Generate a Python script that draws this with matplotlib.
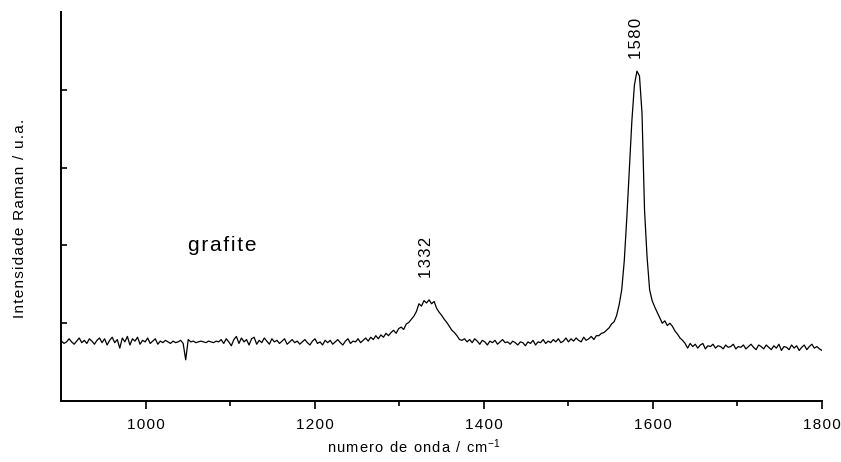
"""Raman spectrum of graphite (grafite), recreated from a scanned figure."""

import matplotlib
matplotlib.use('Agg')
import matplotlib.pyplot as plt
import numpy as np
from matplotlib.ticker import FixedLocator, FuncFormatter

plt.rcParams.update({
    'font.family': ['Liberation Sans', 'DejaVu Sans'],
    'mathtext.default': 'regular',
})

HAIR = '\u200a'

# sampling grid of the spectrum (cm^-1), 3 cm^-1 steps
WN_START, WN_STOP, WN_STEP = 900, 1800, 3

# intensity, one value per grid point (a.u.)
INTENSITY = [
    0.77, 0.74, 0.76, 0.80, 0.76, 0.73, 0.77, 0.81, 0.75, 0.78,   # 900
    0.74, 0.80, 0.77, 0.73, 0.78, 0.81, 0.75, 0.80, 0.72, 0.78,   # 930
    0.82, 0.75, 0.79, 0.68, 0.81, 0.76, 0.83, 0.72, 0.80, 0.77,   # 960
    0.82, 0.73, 0.78, 0.76, 0.81, 0.74, 0.77, 0.80, 0.73, 0.77,   # 990
    0.75, 0.78, 0.76, 0.74, 0.77, 0.75, 0.76, 0.78, 0.74, 0.53,   # 1020
    0.79, 0.76, 0.77, 0.75, 0.76, 0.77, 0.76, 0.75, 0.77, 0.76,   # 1050
    0.75, 0.77, 0.76, 0.79, 0.74, 0.80, 0.76, 0.71, 0.79, 0.83,   # 1080
    0.74, 0.81, 0.76, 0.79, 0.72, 0.80, 0.82, 0.73, 0.78, 0.75,   # 1110
    0.81, 0.77, 0.73, 0.80, 0.76, 0.78, 0.74, 0.77, 0.80, 0.73,   # 1140
    0.76, 0.79, 0.75, 0.77, 0.73, 0.76, 0.79, 0.75, 0.72, 0.77,   # 1170
    0.80, 0.74, 0.76, 0.72, 0.78, 0.75, 0.78, 0.73, 0.76, 0.79,   # 1200
    0.75, 0.72, 0.77, 0.80, 0.74, 0.77, 0.76, 0.80, 0.75, 0.78,   # 1230
    0.81, 0.77, 0.82, 0.79, 0.84, 0.80, 0.85, 0.82, 0.87, 0.84,   # 1260
    0.88, 0.91, 0.87, 0.93, 0.95, 0.92, 0.99, 1.01, 1.05, 1.09,   # 1290
    1.15, 1.25, 1.22, 1.29, 1.26, 1.30, 1.25, 1.28, 1.19, 1.14,   # 1320
    1.10, 1.05, 1.01, 0.96, 0.91, 0.88, 0.84, 0.79, 0.78, 0.80,   # 1350
    0.76, 0.79, 0.75, 0.80, 0.77, 0.73, 0.78, 0.76, 0.72, 0.77,   # 1380
    0.75, 0.78, 0.73, 0.76, 0.79, 0.75, 0.76, 0.73, 0.77, 0.75,   # 1410
    0.72, 0.76, 0.75, 0.71, 0.76, 0.74, 0.78, 0.72, 0.76, 0.75,   # 1440
    0.79, 0.74, 0.77, 0.75, 0.79, 0.76, 0.80, 0.75, 0.77, 0.81,   # 1470
    0.76, 0.80, 0.77, 0.81, 0.78, 0.76, 0.82, 0.78, 0.80, 0.83,   # 1500
    0.79, 0.84, 0.84, 0.87, 0.88, 0.91, 0.94, 0.99, 1.02, 1.10,   # 1530
    1.24, 1.43, 1.80, 2.35, 2.98, 3.60, 4.06, 4.24, 4.18, 3.70,   # 1560
    2.45, 1.85, 1.43, 1.29, 1.21, 1.14, 1.07, 1.00, 1.03, 0.97,   # 1590
    1.00, 0.96, 0.90, 0.86, 0.81, 0.78, 0.74, 0.68, 0.74, 0.70,   # 1620
    0.73, 0.68, 0.72, 0.74, 0.67, 0.71, 0.70, 0.73, 0.68, 0.71,   # 1650
    0.70, 0.67, 0.72, 0.69, 0.70, 0.73, 0.67, 0.70, 0.69, 0.72,   # 1680
    0.67, 0.70, 0.73, 0.69, 0.66, 0.72, 0.70, 0.67, 0.72, 0.69,   # 1710
    0.66, 0.71, 0.68, 0.73, 0.65, 0.70, 0.69, 0.66, 0.72, 0.68,   # 1740
    0.71, 0.65, 0.69, 0.72, 0.66, 0.70, 0.73, 0.68, 0.70, 0.67,   # 1770
    0.65,                                                         # 1800
]

PEAK_POS    = [1332, 1580]
PEAK_LABELS = ['1332', '1580']
PEAK_TOPS   = [1.58, 4.39]     # where the rotated labels start

X_MAJOR = [1000, 1200, 1400, 1600, 1800]
X_MINOR = [1100, 1300, 1500, 1700]
Y_TICKS = [1, 2, 3, 4]


def spaced(s):
    return HAIR.join(s)


wn = np.arange(WN_START, WN_STOP + 1, WN_STEP)

fig = plt.figure(figsize=(8.41, 4.62), dpi=100)
ax = fig.add_axes([0.0731, 0.132, 0.9043, 0.842])

ax.plot(wn, INTENSITY, color='black', linewidth=0.9)

ax.set_xlim(900, 1800)
ax.set_ylim(0, 5)

for side in ('top', 'right'):
    ax.spines[side].set_visible(False)
for side in ('left', 'bottom'):
    ax.spines[side].set_linewidth(1.4)

ax.xaxis.set_major_locator(FixedLocator(X_MAJOR))
ax.xaxis.set_minor_locator(FixedLocator(X_MINOR))
ax.xaxis.set_major_formatter(FuncFormatter(lambda v, p: spaced(f'{v:.0f}')))
ax.tick_params(axis='x', which='major', direction='out', length=6, width=1.2,
               labelsize=11, pad=6)
ax.tick_params(axis='x', which='minor', direction='out', length=3.5, width=1.2)

ax.yaxis.set_major_locator(FixedLocator(Y_TICKS))
ax.tick_params(axis='y', which='major', direction='in', length=4, width=1.2,
               labelleft=False)

for pos, lab, top in zip(PEAK_POS, PEAK_LABELS, PEAK_TOPS):
    ax.text(pos, top, spaced(lab), rotation=90, ha='center', va='bottom',
            fontsize=12)

ax.text(1050, 2.0, spaced('grafite'), ha='left', va='center', fontsize=15)

fig.text(327 / 841, 1 - 447 / 462,
         spaced('numero de onda / cm') + r'$^{-1}$',
         ha='left', va='center', fontsize=10.5)
fig.text(20 / 841, 1 - 218 / 462, spaced('Intensidade Raman / u.a.'),
         rotation=90, ha='center', va='center', fontsize=11)

fig.savefig('out.png', dpi=100)
